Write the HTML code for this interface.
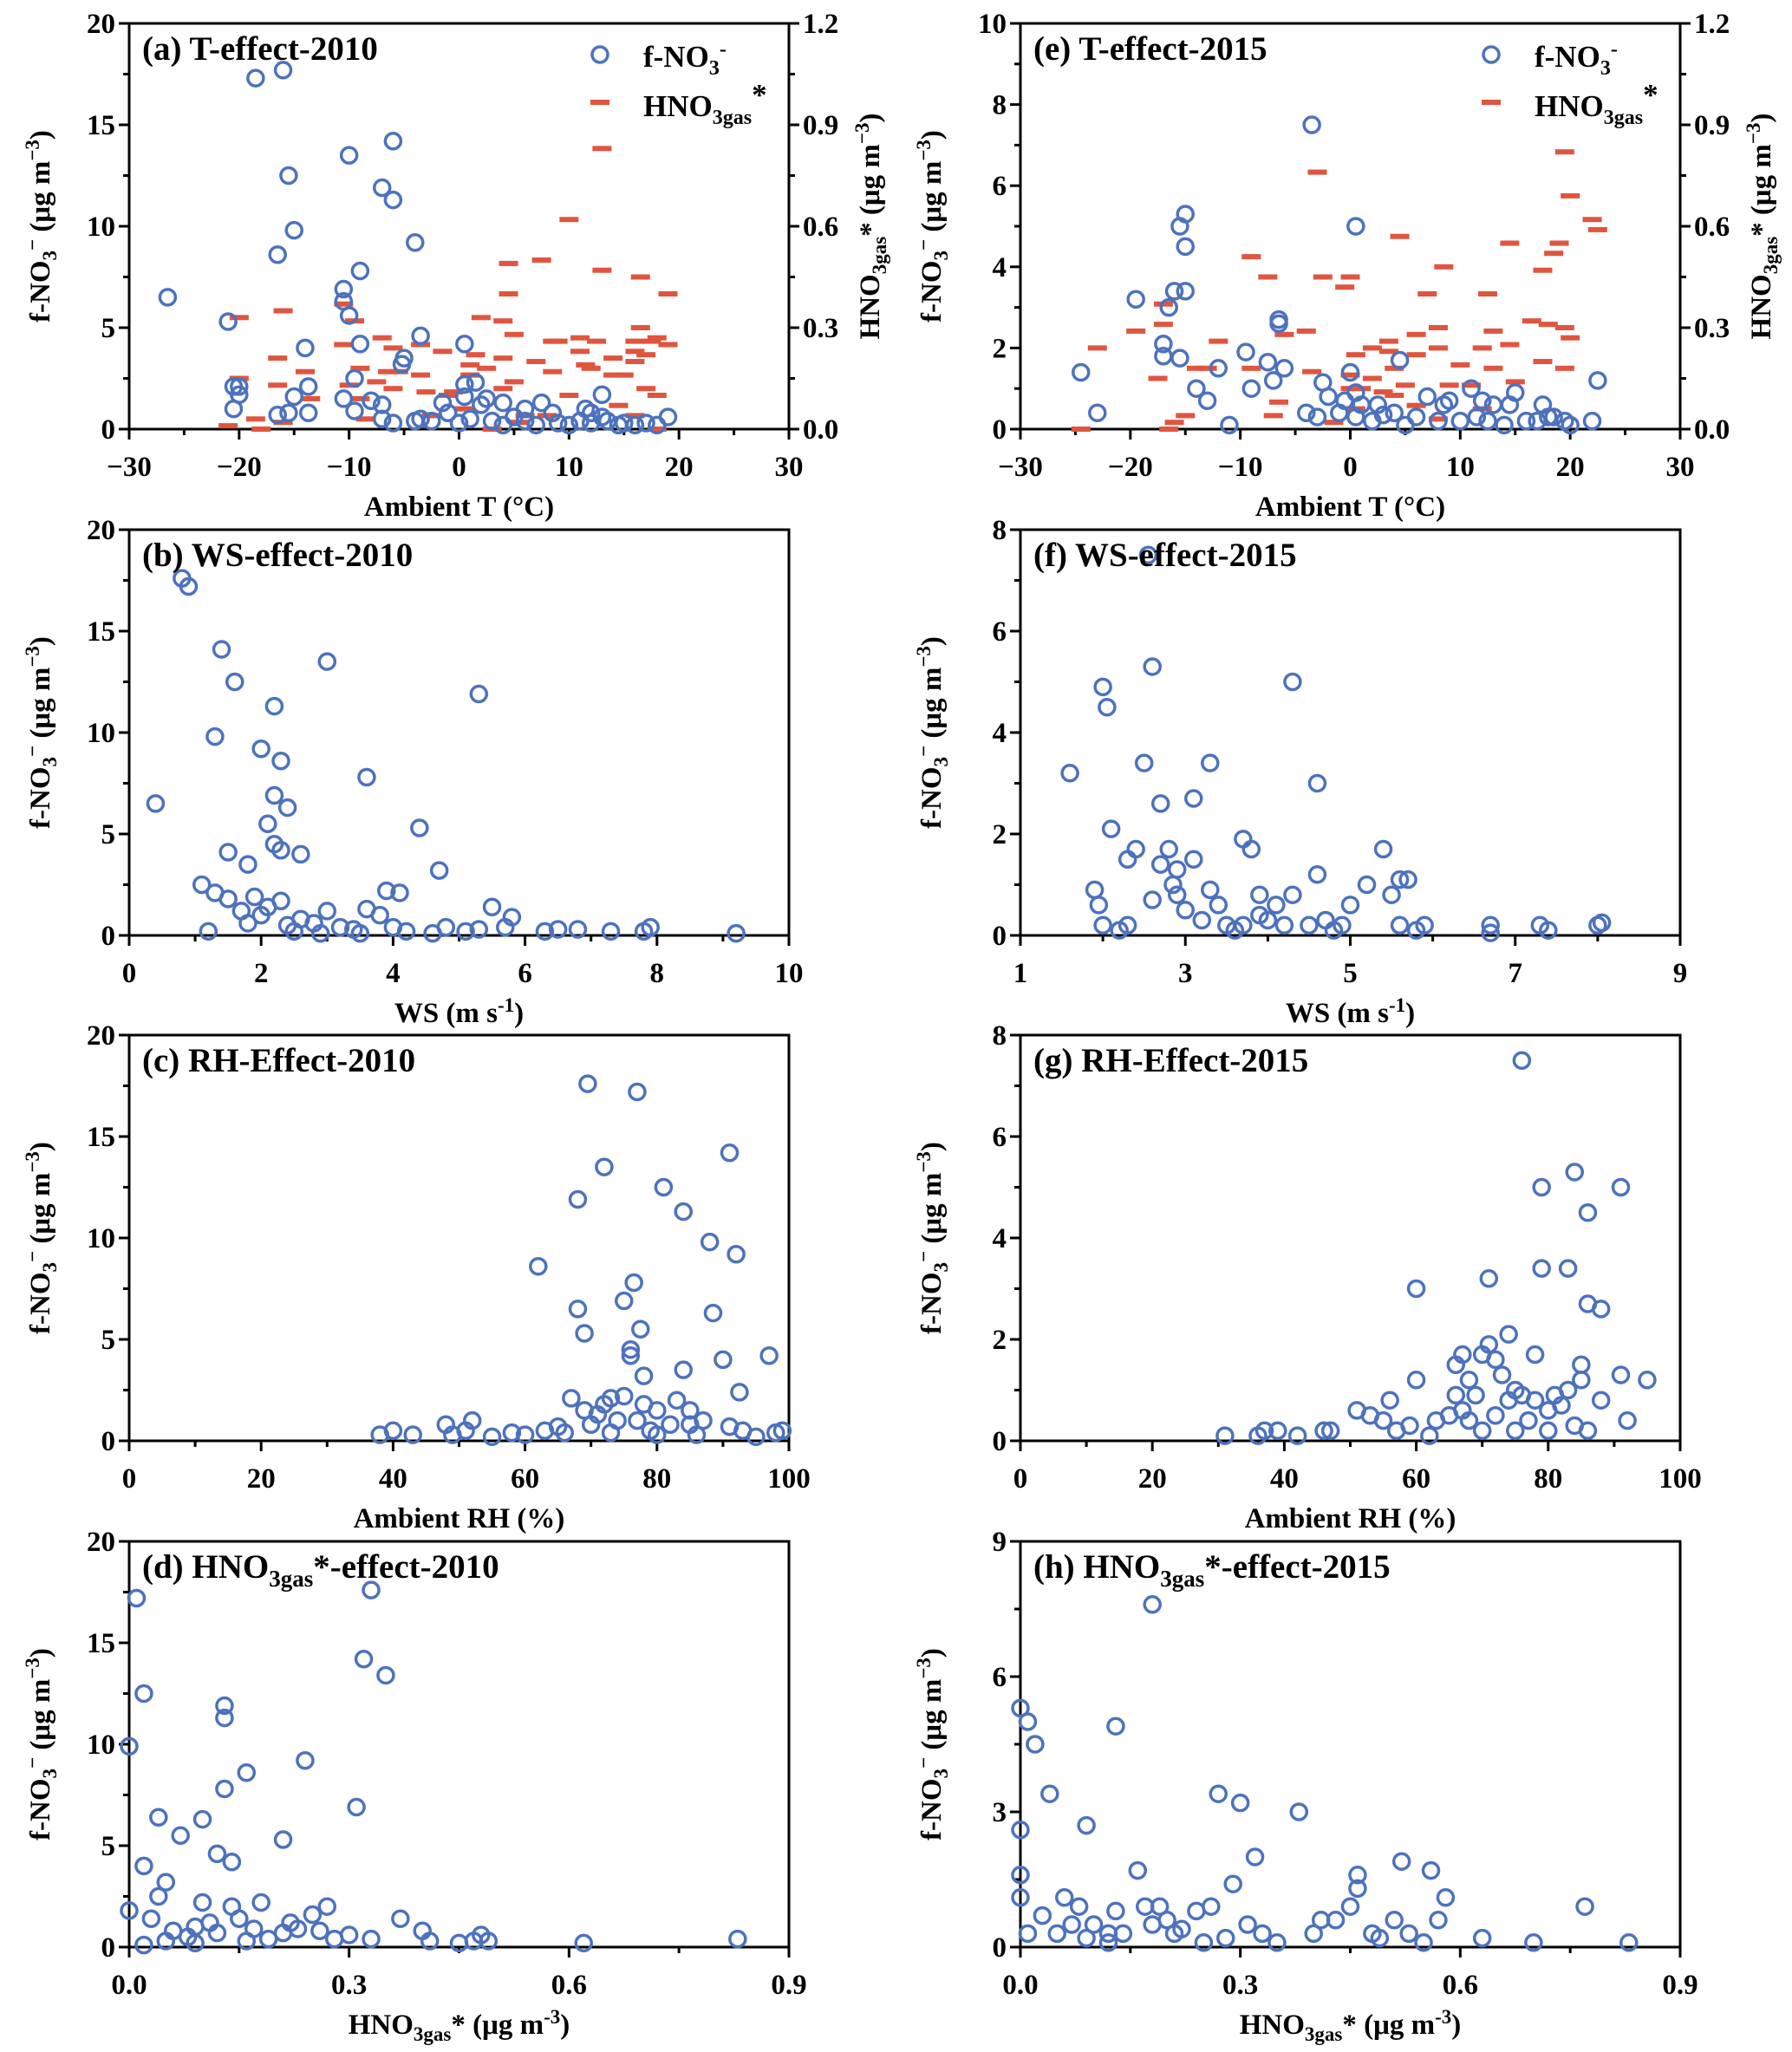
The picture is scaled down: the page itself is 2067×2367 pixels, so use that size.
<!DOCTYPE html>
<html><head><meta charset="utf-8"><style>
html,body{margin:0;padding:0;background:#fff;}
svg{display:block;font-family:"Liberation Serif",serif;font-weight:bold;}
</style></head><body>
<svg id="fig" width="2067" height="2367" viewBox="0 0 2067 2367" xmlns="http://www.w3.org/2000/svg"></svg>
<script>
// ---------- data ----------
const aT=[-26.5,-21,-20.5,-20.5,-20,-20,-18.5,-16,-16.5,-15.5,-15,-16.5,-15.5,-15,-14,-13.7,-13.7,-10.5,-10.5,-10,-10,-9,-9,-9.5,-10.5,-9.5,-8,-7,-6,-6,-7,-7,-6,-4,-5,-5.2,-3.5,-3.5,-4,-2.5,-1.5,-1,0.5,0.5,0.5,1.5,0,1,2,2.5,3,4,5,6,6,7.5,8.5,9,10,11.5,12,12,13,13,13.5,15,16,17,18,19,7,4,11,14.5];
const aF=[6.5,5.3,2.1,1,1.7,2.1,17.3,17.7,8.6,12.5,9.8,0.7,0.8,1.6,4,2.1,0.8,6.9,6.3,13.5,5.6,7.8,4.2,2.5,1.5,0.9,1.4,11.9,11.3,14.2,1.2,0.5,0.3,9.2,3.5,3.2,4.6,0.5,0.4,0.4,1.3,0.8,4.2,2.2,1.6,2.3,0.3,0.5,1.2,1.5,0.4,1.3,0.6,1,0.4,1.3,0.8,0.3,0.2,1,0.8,0.3,1.7,0.6,0.4,0.3,0.2,0.3,0.2,0.6,0.2,0.2,0.4,0.2];
const aHT=[-21,-20,-20,-18.5,-18,-16.5,-16.5,-16,-16,-14,-13.5,-10.5,-10.5,-10,-9.5,-9,-9,-8.5,-7.5,-7,-6.5,-6,-6,-5.5,-3.5,-3.5,-3,-2.5,-1.5,-1,-0.5,0.5,1,1,1.5,2,2.5,3,4,4,4,4.5,4.5,5,5,5.5,6,7,7.5,8,8.5,8.5,9,10,10,11,11,11.5,12,12.5,13,13,14,14,14.5,15,16,16,16,16.5,16.5,17,17,17.5,18,18,19,19,16,18];
const aH=[0.01,0.33,0.15,0.03,0,0.21,0.13,0.35,0.02,0.17,0.09,0.37,0.25,0.13,0.32,0.18,0.09,0.03,0.14,0.27,0.17,0.24,0.12,0.17,0.25,0.16,0.11,0.04,0.23,0.1,0.11,0.06,0.19,0.16,0.22,0.33,0.18,0,0.32,0.21,0.12,0.49,0.4,0.28,0.14,0.02,0.04,0.2,0.5,0.04,0.26,0.17,0.26,0.62,0.1,0.27,0.23,0.19,0.18,0.26,0.83,0.47,0.21,0.16,0.07,0.16,0.26,0.23,0.2,0.45,0.3,0.22,0.12,0.26,0.27,0.1,0.4,0.25,0.04,0];
const eT=[-24.5,-23,-19.5,-17,-17,-16.5,-16,-15.5,-15.5,-15,-15,-15,-14,-13,-12,-11,-9.5,-9,-7.5,-7,-6.5,-6.5,-6,-4,-3.5,-3,-2.5,-2,-1,-0.5,0,0.5,0.5,0.5,1,2,2.5,3,4,4.5,5,6,7,8,8.5,9,10,11,11.5,12,12.5,13,14,14.5,15,16,17,17.5,18,18.5,19.5,20,22,22.5];
const eF=[1.4,0.4,3.2,1.8,2.1,3,3.4,1.75,5,4.5,5.3,3.4,1,0.7,1.5,0.1,1.9,1,1.65,1.2,2.6,2.7,1.5,0.4,7.5,0.3,1.15,0.8,0.4,0.7,1.4,5,0.9,0.3,0.6,0.2,0.6,0.35,0.4,1.7,0.1,0.3,0.8,0.2,0.6,0.7,0.2,1,0.3,0.7,0.2,0.6,0.1,0.6,0.9,0.2,0.2,0.6,0.3,0.3,0.2,0.1,0.2,1.2];
const eHT=[-24.5,-23,-19.5,-17.5,-17,-17,-16.5,-16,-15,-14,-13,-12,-9,-9,-7.5,-7,-6.5,-6,-4,-3.5,-3,-2.5,-1.5,-0.5,0,0,0,0.5,0.5,1,2,2,3,3.5,3.5,4,4,4.5,5,6,6,6,7,8,8,8,8.5,9,10,11,12,12,12.5,13,13,14.5,14.5,15,16.5,17.5,17.5,18,18.5,19,19.5,19.5,19.5,20,20,22,22.5];
const eH=[0,0.24,0.29,0.15,0.31,0.37,0,0.02,0.04,0.18,0.18,0.26,0.51,0.18,0.45,0.04,0.08,0.28,0.29,0.17,0.76,0.45,0.02,0.42,0.45,0.16,0.12,0.22,0.06,0.12,0.24,0.15,0.11,0.26,0.23,0.18,0.1,0.57,0.13,0.28,0.22,0.07,0.4,0.3,0.24,0.03,0.48,0.13,0.19,0.13,0.24,0.06,0.4,0.29,0.18,0.55,0.25,0.14,0.32,0.47,0.2,0.31,0.52,0.55,0.82,0.3,0.18,0.69,0.27,0.62,0.59];
const bWS=[0.4,0.8,0.9,1.1,1.3,1.3,1.4,1.5,1.6,1.5,1.7,1.8,1.8,1.9,2,2,2.1,2.2,2.2,2.2,2.3,2.3,2.4,2.3,2.4,2.6,2.6,2.8,3,3,3.2,3.4,3.6,3.6,3.8,3.9,4,4.1,4.2,4.4,4.7,4.8,5.1,5.3,5.3,5.5,5.7,5.8,6.3,6.5,6.8,7.3,7.8,7.9,9.2,1.2,2.9,3.5,2.5,2.1,4.6];
const bF=[6.5,17.6,17.2,2.5,9.8,2.1,14.1,4.1,12.5,1.8,1.2,0.6,3.5,1.9,1,9.2,5.5,4.5,6.9,11.3,8.6,4.2,6.3,1.7,0.5,4,0.8,0.6,13.5,1.2,0.4,0.3,7.8,1.3,1,2.2,0.4,2.1,0.2,5.3,3.2,0.4,0.2,11.9,0.3,1.4,0.4,0.9,0.2,0.3,0.3,0.2,0.2,0.4,0.1,0.2,0.1,0.1,0.2,1.4,0.1];
const fWS=[1.6,1.9,1.95,2,2.05,2.1,2,2.3,2.3,2.4,2.5,2.55,2.6,2.6,2.7,2.7,2.8,2.85,2.9,2.9,3,3.1,3.1,3.2,3.3,3.3,3.4,3.5,3.6,3.7,3.8,3.9,3.9,4,4.1,4.2,4.3,4.3,4.5,4.6,4.6,4.7,4.9,5,5.2,5.4,5.5,5.6,5.7,5.6,5.8,5.9,6.7,6.7,7.3,7.4,8,8.05,2.2,3.7,4.8];
const fF=[3.2,0.9,0.6,4.9,4.5,2.1,0.2,1.5,0.2,1.7,3.4,7.5,5.3,0.7,2.6,1.4,1.7,1,0.8,1.3,0.5,2.7,1.5,0.3,3.4,0.9,0.6,0.2,0.1,1.9,1.7,0.8,0.4,0.3,0.6,0.2,5,0.8,0.2,3,1.2,0.3,0.2,0.6,1,1.7,0.8,1.1,1.1,0.2,0.1,0.2,0.2,0.05,0.2,0.1,0.2,0.25,0.1,0.2,0.1];
const cRH=[38,40,43,48,49,51,52,55,58,60,62,63,65,66,67,68,68,69,69,69.5,70,71,72,72,73,73,74,75,75,76,76,76.5,77,77,77.5,78,78,79,80,81,82,83,84,84,85,86,87,88,88.5,90,91,91,92,92.5,93,95,97,98,99,80,85];
const cF=[0.3,0.5,0.3,0.8,0.3,0.5,1,0.2,0.4,0.3,8.6,0.5,0.7,0.4,2.1,11.9,6.5,5.3,1.5,17.6,0.8,1.3,13.5,1.8,2.1,0.4,1,6.9,2.2,4.2,4.5,7.8,17.2,1,5.5,3.2,1.8,0.5,1.5,12.5,0.8,2,11.3,3.5,1.5,0.3,1,9.8,6.3,4,14.2,0.7,9.2,2.4,0.5,0.2,4.2,0.4,0.5,0.3,0.8];
const gRH=[31,36,37,39,42,46,47,51,53,55,56,57,59,60,60,62,63,65,66,66,67,67,68,68,69,70,70,71,71,72,72,73,74,74,75,75,76,77,78,78,79,79,80,80,82,83,83,84,84,85,85,86,86,86,88,88,91,91,92,95,76,81];
const gF=[0.1,0.1,0.2,0.2,0.1,0.2,0.2,0.6,0.5,0.4,0.8,0.2,0.3,3,1.2,0.1,0.4,0.5,0.9,1.5,1.7,0.6,0.4,1.2,0.9,1.7,0.2,1.9,3.2,1.6,0.5,1.3,2.1,0.8,1,0.2,7.5,0.4,1.7,0.8,5,3.4,0.6,0.2,0.7,3.4,1,5.3,0.3,1.5,1.2,4.5,2.7,0.2,2.6,0.8,5,1.3,0.4,1.2,0.9,0.9];
const dH=[0,0,0.01,0.02,0.02,0.03,0.04,0.04,0.05,0.06,0.07,0.08,0.09,0.1,0.1,0.11,0.12,0.12,0.13,0.13,0.13,0.14,0.14,0.15,0.16,0.17,0.18,0.19,0.21,0.21,0.22,0.23,0.24,0.25,0.26,0.27,0.28,0.3,0.31,0.32,0.33,0.33,0.35,0.37,0.4,0.41,0.45,0.47,0.48,0.49,0.62,0.83,0.05,0.02,0.16,0.09];
const dF=[9.9,1.8,17.2,12.5,4,1.4,6.4,2.5,3.2,0.8,5.5,0.5,1,6.3,2.2,1.2,4.6,0.7,11.3,11.9,7.8,4.2,2,1.4,8.6,0.9,2.2,0.4,5.3,0.7,1.2,0.9,9.2,1.6,0.8,2,0.4,0.6,6.9,14.2,17.6,0.4,13.4,1.4,0.8,0.3,0.2,0.3,0.6,0.3,0.2,0.4,0.3,0.1,0.3,0.2];
const hH=[0,0,0,0,0.01,0.01,0.02,0.03,0.04,0.05,0.06,0.07,0.08,0.09,0.09,0.1,0.12,0.13,0.13,0.14,0.16,0.17,0.18,0.18,0.19,0.2,0.21,0.22,0.24,0.25,0.26,0.27,0.28,0.29,0.3,0.31,0.32,0.33,0.38,0.4,0.41,0.43,0.45,0.46,0.46,0.48,0.49,0.51,0.52,0.53,0.55,0.56,0.57,0.58,0.63,0.7,0.77,0.83,0.12,0.35];
const hF=[5.3,2.6,1.6,1.1,5,0.3,4.5,0.7,3.4,0.3,1.1,0.5,0.9,0.2,2.7,0.5,0.3,4.9,0.8,0.3,1.7,0.9,7.6,0.5,0.9,0.6,0.3,0.4,0.8,0.1,0.9,3.4,0.2,1.4,3.2,0.5,2,0.3,3,0.3,0.6,0.6,0.9,1.6,1.3,0.3,0.2,0.6,1.9,0.3,0.1,1.7,0.6,1.1,0.2,0.1,0.9,0.1,0.1,0.1];
const tTicks=[-30,-20,-10,0,10,20,30];
const wsTicksB=[0,2,4,6,8,10];
const wsTicksF=[1,3,5,7,9];
const rhTicks=[0,20,40,60,80,100];
const hTicks=[0,0.3,0.6,0.9];
const hTickLabels=["0.0","0.3","0.6","0.9"];
const y20=[0,5,10,15,20];
const y10=[0,2,4,6,8,10];
const y8=[0,2,4,6,8];
const y9=[0,3,6,9];
const rTicks=[0,0.3,0.6,0.9,1.2];
const rTickLabels=["0.0","0.3","0.6","0.9","1.2"];

// ---------- drawing ----------
const NS="http://www.w3.org/2000/svg";
const svg=document.getElementById('fig');
const BLUE="#4d72bd", RED="#e0553f";
function mk(tag,attrs,parent){const e=document.createElementNS(NS,tag);for(const k in attrs)e.setAttribute(k,attrs[k]);(parent||svg).appendChild(e);return e;}
const COLS=[149,1177], W=761;
const ROWS=[27,611,1194,1778], H=468;

function panel(o){
  const g=mk('g',{});
  
  
  const L=COLS[o.c],T=ROWS[o.r],R=L+W,B=T+H;
  const sx=v=>L+(v-o.xmin)/(o.xmax-o.xmin)*W;
  const sy=v=>B-(v-o.ymin)/(o.ymax-o.ymin)*H;
  const sy2=v=>B-v/1.2*H;
  // frame
  const fr=mk('rect',{x:L,y:T,width:W,height:H,fill:'none',stroke:'#000','stroke-width':3},g);
  
  
  // x ticks
  o.xt.forEach((v,i)=>{
    const x=sx(v);
    mk('line',{x1:x,y1:B,x2:x,y2:B+12,stroke:'#000','stroke-width':3},g);
    if(i<o.xt.length-1){const xm=sx((v+o.xt[i+1])/2);mk('line',{x1:xm,y1:B,x2:xm,y2:B+7,stroke:'#000','stroke-width':3},g);}
    const t=mk('text',{x:x,y:B+54,'font-size':33,'text-anchor':'middle'},g);
    t.textContent=(o.xl?o.xl[i]:(v<0?'\u2212'+(-v):v));
    
    
  });
  o.yt.forEach((v,i)=>{
    const y=sy(v);
    mk('line',{x1:L-12,y1:y,x2:L,y2:y,stroke:'#000','stroke-width':3},g);
    if(i<o.yt.length-1){const ym=sy((v+o.yt[i+1])/2);mk('line',{x1:L-7,y1:ym,x2:L,y2:ym,stroke:'#000','stroke-width':3},g);}
    const t=mk('text',{x:L-16,y:y+11,'font-size':33,'text-anchor':'end'},g);
    t.textContent=v;
    
    
  });
  if(o.right){
    rTicks.forEach((v,i)=>{
      const y=sy2(v);
      mk('line',{x1:R,y1:y,x2:R+12,y2:y,stroke:'#000','stroke-width':3},g);
      if(i<rTicks.length-1){const ym=sy2(v+0.15);mk('line',{x1:R,y1:ym,x2:R+7,y2:ym,stroke:'#000','stroke-width':3},g);}
      const t=mk('text',{x:R+16,y:y+11,'font-size':33},g);
      t.textContent=rTickLabels[i];
      
      
    });
    const rt=mk('text',{transform:`translate(${R+104},${T+H/2}) rotate(-90)`,'font-size':33,'text-anchor':'middle'},g);
    rt.innerHTML='HNO<tspan font-size="23" dy="8">3gas</tspan><tspan dy="-8">* (μg m</tspan><tspan font-size="23" dy="-12">−3</tspan><tspan dy="12">)</tspan>';
    
    
    // dashes
    o.hx.forEach((v,i)=>{
      const d=mk('rect',{x:sx(v)-11,y:sy2(o.hy[i])-3,width:22,height:6,fill:RED},g);
      
      
    });
  }
  // points
  o.px.forEach((v,i)=>{
    const c=mk('circle',{cx:sx(v),cy:sy(o.py[i]),r:9,fill:'none',stroke:BLUE,'stroke-width':3.5},g);
    
    
  });
  // y title
  const yt=mk('text',{transform:`translate(${L-92},${T+H/2}) rotate(-90)`,'font-size':33,'text-anchor':'middle'},g);
  yt.innerHTML='f-NO<tspan font-size="23" dy="8">3</tspan><tspan font-size="23" dy="-20">−</tspan><tspan dy="12"> (μg m</tspan><tspan font-size="23" dy="-12">−3</tspan><tspan dy="12">)</tspan>';
  
  
  // x title
  const xt=mk('text',{x:L+W/2,y:B+100,'font-size':33,'text-anchor':'middle'},g);
  xt.innerHTML=o.xtitle;
  
  
  // panel title
  const pt=mk('text',{x:L+15,y:T+42,'font-size':39},g);
  pt.innerHTML=o.title;
  
  
  // legend
  if(o.right){
    const lc=mk('circle',{cx:L+543,cy:T+36,r:9,fill:'none',stroke:BLUE,'stroke-width':3.5},g);
    
    
    const l1=mk('text',{x:L+593,y:T+50,'font-size':35},g);
    l1.innerHTML='f-NO<tspan font-size="24" dy="9">3</tspan><tspan font-size="24" dy="-22">-</tspan>';
    
    
    const ld=mk('rect',{x:L+532,y:T+88,width:22,height:6,fill:RED},g);
    
    
    const l2=mk('text',{x:L+593,y:T+107,'font-size':35},g);
    l2.innerHTML='HNO<tspan font-size="24" dy="9">3gas</tspan><tspan dy="-22">*</tspan>';
    
    
  }
}
const hTitle='HNO<tspan font-size="23" dy="8">3gas</tspan><tspan dy="-8">* (μg m</tspan><tspan font-size="23" dy="-12">-3</tspan><tspan dy="12">)</tspan>';
const tTitle='Ambient T (°C)';
panel({name:'panel-a',c:0,r:0,xmin:-30,xmax:30,ymin:0,ymax:20,xt:tTicks,yt:y20,px:aT,py:aF,right:true,hx:aHT,hy:aH,xtitle:tTitle,title:'(a) T-effect-2010'});
panel({name:'panel-e',c:1,r:0,xmin:-30,xmax:30,ymin:0,ymax:10,xt:tTicks,yt:y10,px:eT,py:eF,right:true,hx:eHT,hy:eH,xtitle:tTitle,title:'(e) T-effect-2015'});
panel({name:'panel-b',c:0,r:1,xmin:0,xmax:10,ymin:0,ymax:20,xt:wsTicksB,yt:y20,px:bWS,py:bF,xtitle:'WS (m s<tspan font-size="23" dy="-12">-1</tspan><tspan dy="12">)</tspan>',title:'(b) WS-effect-2010'});
panel({name:'panel-f',c:1,r:1,xmin:1,xmax:9,ymin:0,ymax:8,xt:wsTicksF,yt:y8,px:fWS,py:fF,xtitle:'WS (m s<tspan font-size="23" dy="-12">-1</tspan><tspan dy="12">)</tspan>',title:'(f) WS-effect-2015'});
panel({name:'panel-c',c:0,r:2,xmin:0,xmax:100,ymin:0,ymax:20,xt:rhTicks,yt:y20,px:cRH,py:cF,xtitle:'Ambient RH (%)',title:'(c) RH-Effect-2010'});
panel({name:'panel-g',c:1,r:2,xmin:0,xmax:100,ymin:0,ymax:8,xt:rhTicks,yt:y8,px:gRH,py:gF,xtitle:'Ambient RH (%)',title:'(g) RH-Effect-2015'});
panel({name:'panel-d',c:0,r:3,xmin:0,xmax:0.9,ymin:0,ymax:20,xt:hTicks,xl:hTickLabels,yt:y20,px:dH,py:dF,xtitle:hTitle,title:'(d) HNO<tspan font-size="27" dy="10">3gas</tspan><tspan dy="-10">*-effect-2010</tspan>'});
panel({name:'panel-h',c:1,r:3,xmin:0,xmax:0.9,ymin:0,ymax:9,xt:hTicks,xl:hTickLabels,yt:y9,px:hH,py:hF,xtitle:hTitle,title:'(h) HNO<tspan font-size="27" dy="10">3gas</tspan><tspan dy="-10">*-effect-2015</tspan>'});
</script>
</body></html>
